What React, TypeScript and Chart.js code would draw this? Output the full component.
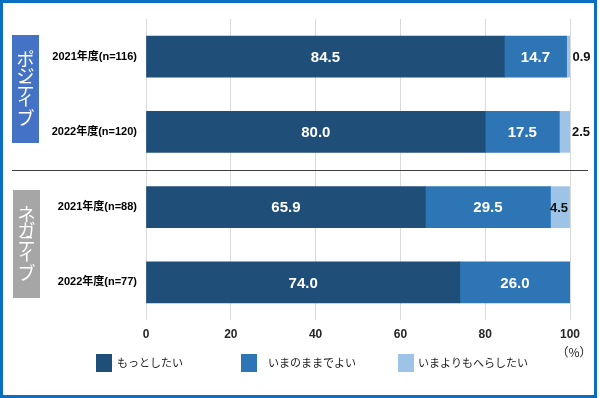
import React, { useEffect, useRef } from 'react';
import { Chart, registerables } from 'chart.js';

Chart.register(...registerables);

const categories = ['2021年度(n=116)', '2022年度(n=120)', '2021年度(n=88)', '2022年度(n=77)'];
const seriesNames = ['もっとしたい', 'いまのままでよい', 'いまよりもへらしたい'];
const moreValues = [84.5, 80.0, 65.9, 74.0];
const sameValues = [14.7, 17.5, 29.5, 26.0];
const lessValues = [0.9, 2.5, 4.5, 0];
const groupNames = ['ポジティブ', 'ネガティブ'];
const xTicks = [0, 20, 40, 60, 80, 100];
const unitLabel = '（%）';

const COLORS = ['#1f4e79', '#2e75b6', '#9dc3e6'];
const GROUP_COLORS = ['#4472c4', '#a6a6a6'];
const FONT = "'Liberation Sans', Arial, 'Noto Sans CJK JP', sans-serif";
const JP = "'Noto Sans CJK JP', sans-serif";

const decorPlugin = {
  id: 'decor',
  beforeDraw(chart: any) {
    const ctx = chart.ctx;
    ctx.save();
    ctx.fillStyle = '#ffffff';
    ctx.fillRect(0, 0, chart.width, chart.height);
    ctx.restore();
  },
  afterDatasetsDraw(chart: any) {
    const ctx = chart.ctx;
    ctx.save();
    ctx.textBaseline = 'middle';
    chart.data.datasets.forEach((ds: any, di: number) => {
      const meta = chart.getDatasetMeta(di);
      meta.data.forEach((el: any, i: number) => {
        const v = ds.data[i];
        if (!v) return;
        const { x, base, y } = el.getProps(['x', 'base', 'y'], true);
        const text = v.toFixed(1);
        if (di < 2) {
          ctx.font = `bold 15px ${FONT}`;
          ctx.fillStyle = '#ffffff';
          ctx.textAlign = 'center';
          ctx.fillText(text, (x + base) / 2, y + 1);
        } else if (x - base >= 16) {
          ctx.font = `bold 13px ${FONT}`;
          ctx.fillStyle = '#111111';
          ctx.textAlign = 'center';
          ctx.fillText(text, (x + base) / 2 - 1, y + 1);
        } else {
          ctx.font = `bold 13px ${FONT}`;
          ctx.fillStyle = '#111111';
          ctx.textAlign = 'left';
          ctx.fillText(text, x + 2, y + 1);
        }
      });
    });
    ctx.restore();
  },
  afterDraw(chart: any) {
    const ctx = chart.ctx;
    const yScale = chart.scales.y;
    ctx.save();

    // separator between the two groups
    const sepY = Math.round((yScale.getPixelForValue(1) + yScale.getPixelForValue(2)) / 2) + 0.5;
    ctx.strokeStyle = '#404040';
    ctx.lineWidth = 1;
    ctx.beginPath();
    ctx.moveTo(12, sepY);
    ctx.lineTo(588, sepY);
    ctx.stroke();

    // group boxes with vertical text
    const boxes = [
      { x: 12, y: 35, w: 27, h: 108 },
      { x: 13, y: 190, w: 27, h: 108 },
    ];
    const offsets = [0, 16, 30.5, 39.5, 59.5];
    groupNames.forEach((name, gi) => {
      const b = boxes[gi];
      ctx.fillStyle = GROUP_COLORS[gi];
      ctx.fillRect(b.x, b.y, b.w, b.h);
      ctx.fillStyle = '#ffffff';
      ctx.font = `18px ${JP}`;
      ctx.textAlign = 'center';
      ctx.textBaseline = 'middle';
      Array.from(name).forEach((ch, ci) => {
        ctx.fillText(ch, b.x + b.w / 2, b.y + 24 + offsets[ci]);
      });
    });

    // legend
    const boxX = [96, 241, 398];
    const textX = [117, 268, 418];
    ctx.textAlign = 'left';
    ctx.textBaseline = 'middle';
    chart.data.datasets.forEach((ds: any, di: number) => {
      ctx.fillStyle = ds.backgroundColor;
      ctx.fillRect(boxX[di], 354, 16, 18);
      ctx.fillStyle = '#1a1a1a';
      ctx.font = `11px ${JP}`;
      ctx.fillText(ds.label, textX[di], 363);
    });

    // unit
    ctx.fillStyle = '#1a1a1a';
    ctx.font = `12px ${JP}`;
    ctx.textAlign = 'center';
    ctx.fillText(unitLabel, 574, 352);

    // outer frame
    ctx.strokeStyle = '#0a6fc2';
    ctx.lineWidth = 3;
    ctx.strokeRect(1.5, 1.5, 594, 395);
    ctx.restore();
  },
};

export default function App() {
  const canvasRef = useRef<HTMLCanvasElement | null>(null);

  useEffect(() => {
    if (!canvasRef.current) return;
    const values = [moreValues, sameValues, lessValues];
    const chart = new Chart(canvasRef.current, {
      type: 'bar',
      data: {
        labels: categories,
        datasets: seriesNames.map((name, i) => ({
          label: name,
          data: values[i],
          backgroundColor: COLORS[i],
          borderWidth: 0,
          barThickness: 41,
        })),
      },
      options: {
        indexAxis: 'y',
        responsive: false,
        animation: false,
        events: [],
        layout: { padding: { top: 19, right: 30, bottom: 53, left: 0 } },
        plugins: {
          legend: { display: false },
          tooltip: { enabled: false },
        },
        scales: {
          x: {
            stacked: true,
            min: 0,
            max: 100,
            afterBuildTicks: (s: any) => {
              s.ticks = xTicks.map((v) => ({ value: v }));
            },
            ticks: {
              font: { size: 12, weight: 'bold', family: FONT },
              color: '#262626',
              padding: 7,
            },
            grid: { color: '#d9d9d9', drawTicks: false },
            border: { display: false },
            afterFit: (s: any) => {
              s.height = 25;
            },
          },
          y: {
            stacked: true,
            ticks: {
              font: { size: 11, weight: 'bold', family: FONT },
              color: '#000000',
              padding: 9,
            },
            grid: { display: false, drawTicks: false },
            border: { display: false },
            afterFit: (s: any) => {
              s.width = 146;
            },
          },
        },
      } as any,
      plugins: [decorPlugin],
    });
    return () => chart.destroy();
  }, []);

  return (
    <div style={{ position: 'absolute', left: 0, top: 0, width: 600, height: 398 }}>
      <canvas ref={canvasRef} width={600} height={398} style={{ display: 'block' }} />
    </div>
  );
}
